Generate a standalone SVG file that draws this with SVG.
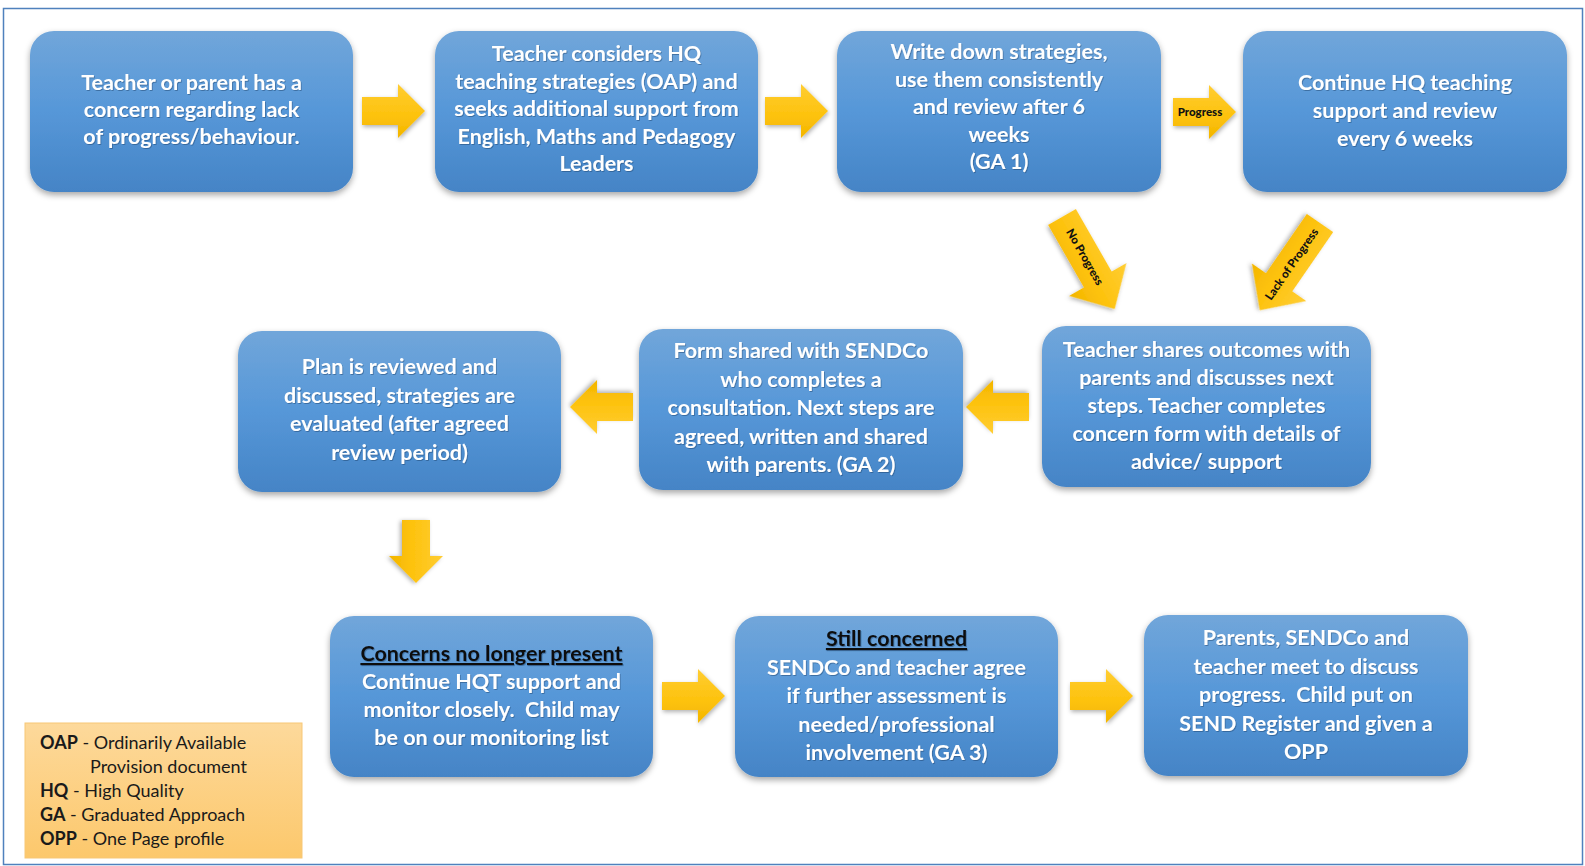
<svg xmlns="http://www.w3.org/2000/svg" width="1585" height="866" viewBox="0 0 1585 866">
<style>
.node rect{fill:url(#gBlue);filter:url(#shadow)}
.nt{font-family:Lato,"Liberation Sans",sans-serif;font-weight:bold;font-size:21.5px;fill:#ffffff;text-anchor:middle;white-space:pre;filter:url(#tshadow)}
.hd{fill:#111111;text-decoration:underline}
.arr{fill:url(#gGold);filter:url(#ashadow)}
.al{font-family:Lato,"Liberation Sans",sans-serif;font-weight:900;font-size:11.5px;fill:#111111;text-anchor:middle}
.lg{font-family:Lato,"Liberation Sans",sans-serif;font-size:18px;fill:#1a1a1a;white-space:pre}
.lg tspan.b{font-weight:bold}
</style>
<defs>
<linearGradient id="gBlue" x1="0" y1="0" x2="0" y2="1">
<stop offset="0" stop-color="#71a6da"/>
<stop offset="0.5" stop-color="#5697d8"/>
<stop offset="1" stop-color="#4584c6"/>
</linearGradient>
<linearGradient id="gGold" x1="0" y1="0" x2="0" y2="1">
<stop offset="0" stop-color="#ffcd33"/>
<stop offset="0.6" stop-color="#fdc20c"/>
<stop offset="1" stop-color="#f3b500"/>
</linearGradient>
<linearGradient id="gLeg" x1="0" y1="0" x2="0" y2="1">
<stop offset="0" stop-color="#fdd99b"/>
<stop offset="1" stop-color="#fcc86c"/>
</linearGradient>
<filter id="shadow" x="-10%" y="-10%" width="120%" height="130%">
<feDropShadow dx="0" dy="3" stdDeviation="3" flood-color="#000" flood-opacity="0.35"/>
</filter>
<filter id="ashadow" x="-20%" y="-20%" width="140%" height="150%">
<feDropShadow dx="1" dy="2" stdDeviation="2" flood-color="#000" flood-opacity="0.3"/>
</filter>
<filter id="tshadow" x="-5%" y="-20%" width="110%" height="140%">
<feDropShadow dx="0.8" dy="1" stdDeviation="0.7" flood-color="#1f3c60" flood-opacity="0.45"/>
</filter>
<path id="rarrow" d="M0,-14 H36 V-27 L63,0 L36,27 V14 H0 Z"/>
<path id="darrow" d="M0,-16 H72 V-33 L106,0 L72,33 V16 H0 Z"/>
</defs>
<rect x="0" y="0" width="1585" height="866" fill="#ffffff"/>
<rect x="3.5" y="8.5" width="1579" height="856" fill="none" stroke="#4f81bd" stroke-width="1.5"/>

<g id="connectors">
<use href="#rarrow" class="arr" transform="translate(362,111)"/>
<use href="#rarrow" class="arr" transform="translate(765,111)"/>
<g transform="translate(1173,112)">
<use href="#rarrow" class="arr"/>
<text class="al" x="27" y="4">Progress</text>
</g>
<g transform="translate(1062,217) rotate(60.2)">
<use href="#darrow" class="arr"/>
<text class="al" x="46" y="4">No Progress</text>
</g>
<g transform="translate(1320,223) rotate(124.6)">
<use href="#darrow" class="arr"/>
<text class="al" x="50" y="4" transform="rotate(180 50 0)">Lack of Progress</text>
</g>
<use href="#rarrow" class="arr" transform="translate(1029,407) rotate(180)"/>
<use href="#rarrow" class="arr" transform="translate(633,407) rotate(180)"/>
<use href="#rarrow" class="arr" transform="translate(416,520) rotate(90)"/>
<use href="#rarrow" class="arr" transform="translate(662,696)"/>
<use href="#rarrow" class="arr" transform="translate(1070,696)"/>
</g>

<g id="n1" class="node">
<rect x="30" y="31" width="323" height="161" rx="24"/>
<text class="nt"><tspan x="191.5" y="90">Teacher or parent has a</tspan><tspan x="191.5" y="117">concern regarding lack</tspan><tspan x="191.5" y="144">of progress/behaviour.</tspan></text>
</g>
<g id="n2" class="node">
<rect x="435" y="31" width="323" height="161" rx="24"/>
<text class="nt"><tspan x="596.5" y="61">Teacher considers HQ</tspan><tspan x="596.5" y="88.5">teaching strategies (OAP) and</tspan><tspan x="596.5" y="116">seeks additional support from</tspan><tspan x="596.5" y="143.5">English, Maths and Pedagogy</tspan><tspan x="596.5" y="171">Leaders</tspan></text>
</g>
<g id="n3" class="node">
<rect x="837" y="31" width="324" height="161" rx="24"/>
<text class="nt"><tspan x="999" y="59">Write down strategies,</tspan><tspan x="999" y="86.5">use them consistently</tspan><tspan x="999" y="114">and review after 6</tspan><tspan x="999" y="141.5">weeks</tspan><tspan x="999" y="169">(GA 1)</tspan></text>
</g>
<g id="n4" class="node">
<rect x="1243" y="31" width="324" height="161" rx="24"/>
<text class="nt"><tspan x="1405" y="90">Continue HQ teaching</tspan><tspan x="1405" y="118">support and review</tspan><tspan x="1405" y="146">every 6 weeks</tspan></text>
</g>
<g id="n5" class="node">
<rect x="238" y="331" width="323" height="161" rx="24"/>
<text class="nt"><tspan x="399.5" y="374">Plan is reviewed and</tspan><tspan x="399.5" y="402.5">discussed, strategies are</tspan><tspan x="399.5" y="431">evaluated (after agreed</tspan><tspan x="399.5" y="459.5">review period)</tspan></text>
</g>
<g id="n6" class="node">
<rect x="639" y="329" width="324" height="161" rx="24"/>
<text class="nt"><tspan x="801" y="358">Form shared with SENDCo</tspan><tspan x="801" y="386.5">who completes a</tspan><tspan x="801" y="415">consultation. Next steps are</tspan><tspan x="801" y="443.5">agreed, written and shared</tspan><tspan x="801" y="472">with parents. (GA 2)</tspan></text>
</g>
<g id="n7" class="node">
<rect x="1042" y="326" width="329" height="161" rx="24"/>
<text class="nt"><tspan x="1206.5" y="357">Teacher shares outcomes with</tspan><tspan x="1206.5" y="385">parents and discusses next</tspan><tspan x="1206.5" y="413">steps. Teacher completes</tspan><tspan x="1206.5" y="441">concern form with details of</tspan><tspan x="1206.5" y="469">advice/ support</tspan></text>
</g>
<g id="n8" class="node">
<rect x="330" y="616" width="323" height="161" rx="24"/>
<text class="nt"><tspan class="hd" x="491.5" y="661">Concerns no longer present</tspan><tspan x="491.5" y="689">Continue HQT support and</tspan><tspan x="491.5" y="717">monitor closely.  Child may</tspan><tspan x="491.5" y="745">be on our monitoring list</tspan></text>
</g>
<g id="n9" class="node">
<rect x="735" y="616" width="323" height="161" rx="24"/>
<text class="nt"><tspan class="hd" x="896.5" y="646">Still concerned</tspan><tspan x="896.5" y="674.5">SENDCo and teacher agree</tspan><tspan x="896.5" y="703">if further assessment is</tspan><tspan x="896.5" y="731.5">needed/professional</tspan><tspan x="896.5" y="760">involvement (GA 3)</tspan></text>
</g>
<g id="n10" class="node">
<rect x="1144" y="615" width="324" height="161" rx="24"/>
<text class="nt"><tspan x="1306" y="645">Parents, SENDCo and</tspan><tspan x="1306" y="673.5">teacher meet to discuss</tspan><tspan x="1306" y="702">progress.  Child put on</tspan><tspan x="1306" y="730.5">SEND Register and given a</tspan><tspan x="1306" y="759">OPP</tspan></text>
</g>

<g id="legend">
<rect x="25" y="723" width="277" height="135" fill="url(#gLeg)" stroke="#f7c777" stroke-width="1"/>
<text class="lg"><tspan x="40" y="749"><tspan class="b">OAP</tspan> - Ordinarily Available</tspan><tspan x="90" y="773">Provision document</tspan><tspan x="40" y="797"><tspan class="b">HQ</tspan> - High Quality</tspan><tspan x="40" y="821"><tspan class="b">GA</tspan> - Graduated Approach</tspan><tspan x="40" y="845"><tspan class="b">OPP</tspan> - One Page profile</tspan></text>
</g>
</svg>
